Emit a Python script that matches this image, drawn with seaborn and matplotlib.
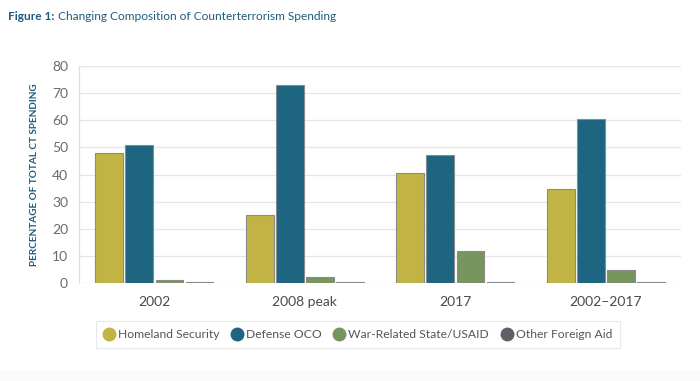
"""
Figure 1: Changing Composition of Counterterrorism Spending
Grouped bar chart, seaborn
"""

import matplotlib
matplotlib.use("Agg")
import matplotlib.pyplot as plt
import matplotlib.patches as mpatches
import seaborn as sns
import pandas as pd

# Data
periods = ["2002", "2008 peak", "2017", "2002\u20132017"]
categories = ["Homeland Security", "Defense OCO", "War-Related State/USAID", "Other Foreign Aid"]
homeland = [48, 25, 40.7, 34.8]
defense_oco = [51, 72.9, 47.4, 60.4]
war_related = [1.3, 2.2, 12, 5]
other_aid = [0.4, 0.4, 0.7, 0.5]
y_ticks = [0, 10, 20, 30, 40, 50, 60, 70, 80]

colors = ["#c1b444", "#1d6580", "#76955f", "#5e6268"]

df = pd.DataFrame({
    "period": periods * 4,
    "category": sum([[c] * len(periods) for c in categories], []),
    "value": homeland + defense_oco + war_related + other_aid,
})

sns.set_style("white")
plt.rcParams["font.family"] = ["Lato", "DejaVu Sans"]

fig = plt.figure(figsize=(7, 3.81), dpi=100)
ax = fig.add_axes([0.113, 0.256, 0.860, 0.571])

sns.barplot(data=df, x="period", y="value", hue="category",
            order=periods, hue_order=categories, palette=colors,
            width=0.8, gap=0.08, edgecolor="#8a8a8a", linewidth=0.8,
            saturation=1, legend=False, ax=ax)

ax.set_ylim(0, 80)
ax.set_yticks(y_ticks)
ax.set_xlim(-0.5, len(periods) - 0.5)
ax.yaxis.grid(True, color="#e6e6e6", linewidth=0.9)
ax.set_axisbelow(True)
for side in ["top", "right", "bottom"]:
    ax.spines[side].set_visible(False)
ax.spines["left"].set_color("#e0e0e0")
ax.spines["left"].set_linewidth(0.9)
ax.tick_params(axis="y", labelsize=10, labelcolor="#6b6b6b", length=0, pad=8)
ax.tick_params(axis="x", labelsize=10, labelcolor="#4a4a4a", length=0, pad=9)
ax.set_xlabel("")
ax.set_ylabel("PERCENTAGE OF TOTAL CT SPENDING", fontsize=7.2, fontweight="bold",
              color="#1d5c7e", labelpad=9)

# Title: bold prefix, regular remainder placed right after it
t1 = fig.text(0.011, 0.958, "Figure 1:", fontsize=8.6, fontweight="bold",
              color="#1d5c7e", va="center")
fig.canvas.draw()
bb = t1.get_window_extent().transformed(fig.transFigure.inverted())
fig.text(bb.x1 + 0.005, 0.958, "Changing Composition of Counterterrorism Spending",
         fontsize=8.6, color="#1d5c7e", va="center")

# Legend with round markers
handles = [plt.Line2D([0], [0], marker="o", linestyle="", markersize=9,
                      markerfacecolor=c, markeredgecolor=c) for c in colors]
leg = fig.legend(handles, categories, loc="center", bbox_to_anchor=(0.511, 0.122),
                 ncol=4, frameon=True, fontsize=8.7, handlelength=0.9, handletextpad=0.3,
                 columnspacing=1.0, borderpad=0.65, borderaxespad=0, fancybox=False)
leg.get_frame().set_edgecolor("#e3e3e3")
leg.get_frame().set_linewidth(0.8)
for t in leg.get_texts():
    t.set_color("#555555")

# faint gray band at the bottom
fig.patches.append(mpatches.Rectangle((0, 0), 1, 0.029, transform=fig.transFigure,
                                      facecolor="#fafafa", edgecolor="none", zorder=0))

fig.savefig("out.png", dpi=100)
